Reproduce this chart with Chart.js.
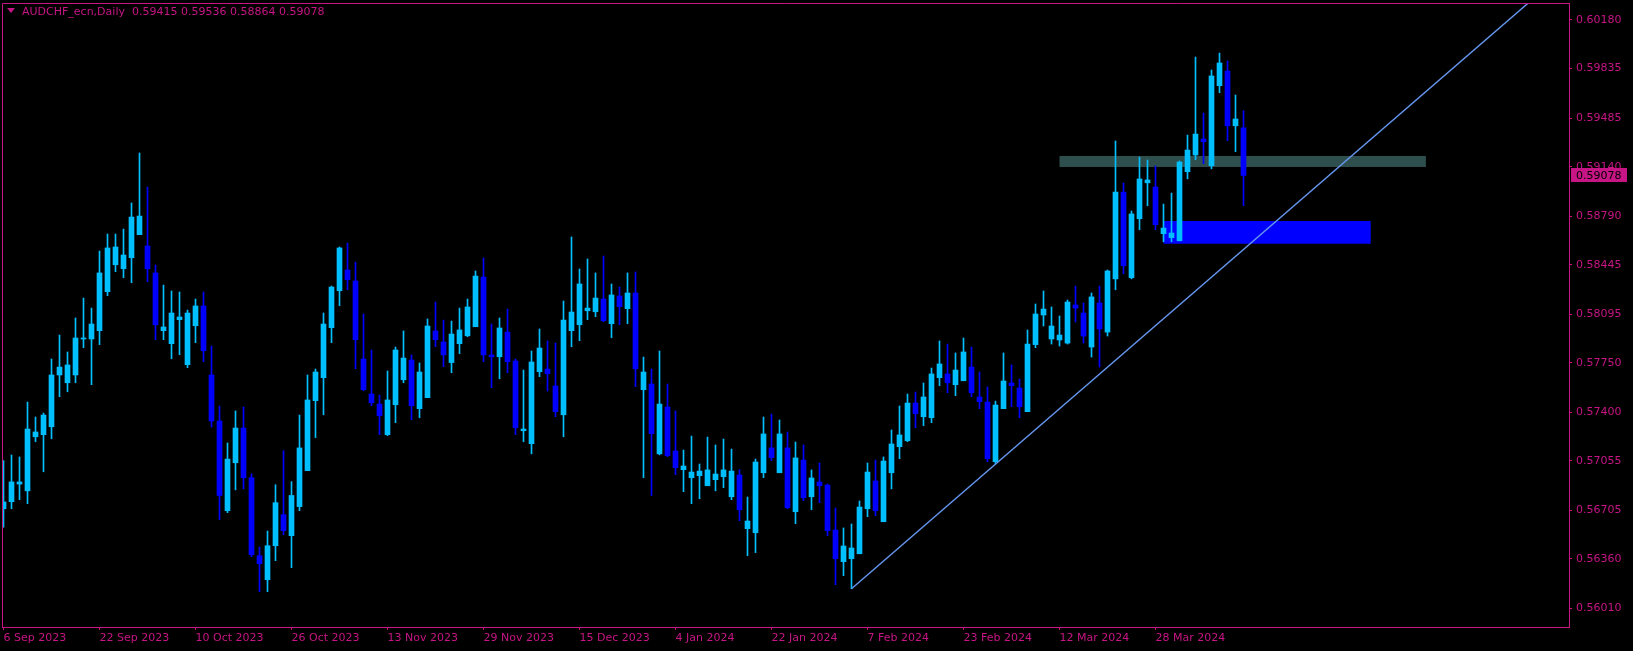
<!DOCTYPE html>
<html>
<head>
<meta charset="utf-8">
<title>AUDCHF_ecn, Daily</title>
<script src="https://cdn.jsdelivr.net/npm/chart.js@4.4.1/dist/chart.umd.min.js"></script>
<style>
  html, body { margin: 0; padding: 0; background: #000; overflow: hidden; }
  #wrap { position: relative; width: 1633px; height: 651px; }
  #chartCanvas { display: block; }
  #hdr { position: absolute; left: 7px; top: 5px; font: 11px "DejaVu Sans", sans-serif; line-height: 13px; color: #C71585; white-space: pre; }
  .tri { display: inline-block; width: 0; height: 0; border-left: 4px solid transparent; border-right: 4px solid transparent; border-top: 5px solid #C71585; margin-right: 7px; vertical-align: 2px; }
</style>
</head>
<body>
<div id="wrap">
  <canvas id="chartCanvas" width="1633" height="651"></canvas>
  <div id="hdr"></div>
</div>
<script>
/* AUDCHF daily candles, MT4 look */
const PINK = '#C71585';
const BULL = '#00BFFF';
const BEAR = '#0000FF';
const FONT = { family: '"DejaVu Sans", sans-serif', size: 11 };

const symbol = 'AUDCHF_ecn,Daily';

const opens = [
  0.56716, 0.56766, 0.56891, 0.56843, 0.57226, 0.57241, 0.57297, 0.57664, 0.57609, 0.57664,
  0.57919, 0.57919, 0.57978, 0.58254, 0.58445, 0.58417, 0.58495, 0.58658, 0.58578, 0.58387,
  0.57978, 0.57886, 0.58056, 0.57737, 0.58013, 0.58153, 0.57664, 0.57338, 0.56702, 0.57042,
  0.57288, 0.56936, 0.56383, 0.56213, 0.56454, 0.56674, 0.56525, 0.56731, 0.56986, 0.57482,
  0.57645, 0.57999, 0.58261, 0.58408, 0.58330, 0.57777, 0.57529, 0.57458, 0.57241, 0.57453,
  0.57630, 0.57770, 0.57425, 0.57503, 0.57976, 0.57898, 0.57752, 0.57886, 0.57942, 0.58006,
  0.58358, 0.57806, 0.57793, 0.57968, 0.57763, 0.57269, 0.57177, 0.57687, 0.57706, 0.57586,
  0.57382, 0.57978, 0.58020, 0.58119, 0.58112, 0.58202, 0.58027, 0.58224, 0.58134, 0.58245,
  0.57560, 0.57600, 0.57105, 0.57437, 0.57125, 0.56993, 0.56936, 0.56950, 0.56879, 0.56922,
  0.56943, 0.56801, 0.56955, 0.56575, 0.56546, 0.56971, 0.57147, 0.56971, 0.57147, 0.56695,
  0.57061, 0.56801, 0.56906, 0.56884, 0.56565, 0.56341, 0.56362, 0.56397, 0.56716, 0.56913,
  0.56624, 0.56971, 0.57156, 0.57198, 0.57465, 0.57368, 0.57361, 0.57645, 0.57671, 0.57595,
  0.57623, 0.57720, 0.57508, 0.57472, 0.57049, 0.57425, 0.57607, 0.57572, 0.57404, 0.57879,
  0.58089, 0.57919, 0.57912, 0.57890, 0.58160, 0.58103, 0.57862, 0.58174, 0.57968, 0.58345,
  0.58960, 0.58353, 0.58771, 0.59026, 0.58996, 0.58665, 0.58637, 0.58615, 0.59104, 0.59223,
  0.59336, 0.59147, 0.59714, 0.59818, 0.59430, 0.59415
];
const highs = [
  0.57057, 0.57097, 0.57083, 0.57472, 0.57366, 0.57394, 0.57777, 0.57947, 0.57827, 0.58068,
  0.58209, 0.58138, 0.58542, 0.58663, 0.58663, 0.58698, 0.58883, 0.59237, 0.58996, 0.58443,
  0.58301, 0.58259, 0.58252, 0.58124, 0.58202, 0.58252, 0.57869, 0.57444, 0.57182, 0.57409,
  0.57437, 0.56964, 0.56445, 0.56558, 0.56886, 0.57127, 0.56908, 0.57380, 0.57664, 0.57706,
  0.58103, 0.58294, 0.58571, 0.58599, 0.58464, 0.58096, 0.57841, 0.57522, 0.57692, 0.57862,
  0.57976, 0.57806, 0.57749, 0.58061, 0.58181, 0.58053, 0.58046, 0.58138, 0.58202, 0.58401,
  0.58493, 0.58025, 0.58068, 0.58131, 0.57777, 0.57699, 0.57834, 0.57990, 0.57905, 0.57890,
  0.58188, 0.58642, 0.58415, 0.58486, 0.58387, 0.58507, 0.58309, 0.58287, 0.58387, 0.58394,
  0.57791, 0.57706, 0.57834, 0.57600, 0.57409, 0.57132, 0.57231, 0.57033, 0.57224, 0.57168,
  0.57210, 0.57139, 0.56993, 0.56799, 0.57068, 0.57366, 0.57387, 0.57345, 0.57260, 0.57189,
  0.57168, 0.56991, 0.57040, 0.56891, 0.56721, 0.56580, 0.56608, 0.56771, 0.57040, 0.57061,
  0.57083, 0.57274, 0.57444, 0.57529, 0.57543, 0.57607, 0.57713, 0.57905, 0.57883, 0.57820,
  0.57926, 0.57862, 0.57685, 0.57579, 0.57479, 0.57820, 0.57735, 0.57635, 0.57983, 0.58167,
  0.58259, 0.58146, 0.58082, 0.58195, 0.58294, 0.58174, 0.58245, 0.58294, 0.58408, 0.59322,
  0.59024, 0.58826, 0.59208, 0.59187, 0.59145, 0.58875, 0.58953, 0.59180, 0.59364, 0.59917,
  0.59520, 0.59825, 0.59945, 0.59889, 0.59648, 0.59536
];
const lows = [
  0.56585, 0.56716, 0.56780, 0.56752, 0.57191, 0.56978, 0.57212, 0.57510, 0.57545, 0.57609,
  0.57857, 0.57595, 0.57879, 0.58226, 0.58396, 0.58353, 0.58318, 0.58658, 0.58325, 0.57914,
  0.57914, 0.57779, 0.57808, 0.57716, 0.57893, 0.57758, 0.57295, 0.56638, 0.56688, 0.56850,
  0.56857, 0.56376, 0.56128, 0.56128, 0.56348, 0.56532, 0.56298, 0.56702, 0.56986, 0.57220,
  0.57382, 0.57893, 0.58155, 0.58268, 0.57708, 0.57552, 0.57446, 0.57241, 0.57234, 0.57326,
  0.57609, 0.57347, 0.57361, 0.57503, 0.57864, 0.57723, 0.57680, 0.57815, 0.57935, 0.58006,
  0.57758, 0.57574, 0.57637, 0.57680, 0.57241, 0.57191, 0.57105, 0.57652, 0.57550, 0.57368,
  0.57226, 0.57864, 0.57907, 0.58056, 0.58077, 0.58041, 0.57928, 0.58020, 0.58027, 0.57581,
  0.56936, 0.56810, 0.57098, 0.57085, 0.56957, 0.56837, 0.56752, 0.56787, 0.56879, 0.56843,
  0.56865, 0.56780, 0.56631, 0.56383, 0.56405, 0.56936, 0.57057, 0.56971, 0.56716, 0.56610,
  0.56773, 0.56709, 0.56759, 0.56525, 0.56178, 0.56242, 0.56149, 0.56397, 0.56660, 0.56667,
  0.56624, 0.56857, 0.57071, 0.57191, 0.57290, 0.57305, 0.57326, 0.57588, 0.57538, 0.57517,
  0.57623, 0.57510, 0.57425, 0.57049, 0.57035, 0.57425, 0.57439, 0.57361, 0.57404, 0.57857,
  0.58011, 0.57883, 0.57869, 0.57883, 0.58039, 0.57890, 0.57791, 0.57720, 0.57940, 0.58268,
  0.58381, 0.58345, 0.58693, 0.58863, 0.58693, 0.58608, 0.58608, 0.58615, 0.59054, 0.59189,
  0.59161, 0.59125, 0.59664, 0.59324, 0.59246, 0.58864
];
const closes = [
  0.56764, 0.56906, 0.56906, 0.57281, 0.57260, 0.57380, 0.57664, 0.57720, 0.57735, 0.57926,
  0.57926, 0.58025, 0.58387, 0.58564, 0.58571, 0.58514, 0.58783, 0.58790, 0.58417, 0.58020,
  0.58004, 0.58103, 0.58075, 0.58103, 0.58153, 0.57836, 0.57338, 0.56810, 0.57068, 0.57288,
  0.56936, 0.56390, 0.56327, 0.56454, 0.56759, 0.56561, 0.56810, 0.57147, 0.57487, 0.57685,
  0.58025, 0.58287, 0.58564, 0.58339, 0.57914, 0.57560, 0.57467, 0.57375, 0.57487, 0.57841,
  0.57784, 0.57446, 0.57685, 0.58011, 0.57914, 0.57806, 0.57954, 0.57983, 0.58146, 0.58365,
  0.57806, 0.57793, 0.57997, 0.57758, 0.57290, 0.57281, 0.57756, 0.57855, 0.57673, 0.57404,
  0.58053, 0.58110, 0.58309, 0.58138, 0.58209, 0.58048, 0.58231, 0.58148, 0.58245, 0.57708,
  0.57685, 0.57248, 0.57458, 0.57092, 0.57007, 0.57019, 0.56976, 0.56983, 0.56991, 0.56962,
  0.56991, 0.56983, 0.56709, 0.56629, 0.57047, 0.57246, 0.57078, 0.57246, 0.56723, 0.57076,
  0.56794, 0.56934, 0.56879, 0.56561, 0.56362, 0.56452, 0.56438, 0.56728, 0.56976, 0.56702,
  0.57054, 0.57175, 0.57239, 0.57465, 0.57390, 0.57508, 0.57671, 0.57742, 0.57609, 0.57699,
  0.57827, 0.57538, 0.57475, 0.57071, 0.57451, 0.57621, 0.57588, 0.57439, 0.57883, 0.58096,
  0.58131, 0.58011, 0.57947, 0.58181, 0.58138, 0.57940, 0.58217, 0.57990, 0.58401, 0.58960,
  0.58438, 0.58805, 0.59053, 0.59046, 0.58729, 0.58705, 0.58670, 0.59173, 0.59258, 0.59371,
  0.59317, 0.59783, 0.59875, 0.59430, 0.59478, 0.59078
];

// time axis: bar index -> date label
const tickIdx = [0, 12, 24, 36, 48, 60, 72, 84, 96, 108, 120, 132, 144];
const tickDates = ['6 Sep 2023', '22 Sep 2023', '10 Oct 2023', '26 Oct 2023', '13 Nov 2023',
  '29 Nov 2023', '15 Dec 2023', '4 Jan 2024', '22 Jan 2024', '7 Feb 2024', '23 Feb 2024',
  '12 Mar 2024', '28 Mar 2024'];
const priceTicks = [0.60180, 0.59835, 0.59485, 0.59140, 0.58790, 0.58445, 0.58095,
  0.57750, 0.57400, 0.57055, 0.56705, 0.56360, 0.56010];

// drawn objects (bar index / price)
const trendX = [106, 190.6];
const trendY = [0.56149, 0.60300];
const grayZoneX = [132, 177.8];
const grayZoneY = [0.59138, 0.59216];
const blueZoneX = [145, 170.9];
const blueZoneY = [0.58594, 0.58755];

const idx = opens.map((_, i) => i);
const candleColors = idx.map(i => closes[i] >= opens[i] ? BULL : BEAR);
const last = opens.length - 1;

document.getElementById('hdr').innerHTML = '<span class="tri"></span>' + symbol + '  ' +
  [opens[last], highs[last], lows[last], closes[last]].map(v => v.toFixed(5)).join(' ');

const zonesPlugin = {
  id: 'zones',
  beforeDatasetsDraw(chart) {
    const { ctx, chartArea: a, scales: { x, y } } = chart;
    ctx.save();
    ctx.beginPath();
    ctx.rect(a.left, a.top, a.right - a.left, a.bottom - a.top);
    ctx.clip();
    [[grayZoneX, grayZoneY, '#2F4F4F'], [blueZoneX, blueZoneY, BEAR]].forEach(([zx, zy, col]) => {
      const x0 = x.getPixelForValue(zx[0]), x1 = x.getPixelForValue(zx[1]);
      const y0 = y.getPixelForValue(zy[1]), y1 = y.getPixelForValue(zy[0]);
      ctx.fillStyle = col;
      ctx.fillRect(x0, y0, x1 - x0, y1 - y0);
    });
    ctx.restore();
  }
};

const framePlugin = {
  id: 'frame',
  afterDraw(chart) {
    const { ctx, chartArea: a, scales: { y } } = chart;
    ctx.save();
    ctx.strokeStyle = PINK;
    ctx.lineWidth = 1;
    ctx.beginPath();
    ctx.moveTo(a.left + 0.5, a.bottom);
    ctx.lineTo(a.left + 0.5, a.top + 0.5);
    ctx.lineTo(a.right, a.top + 0.5);
    ctx.stroke();
    // current price tag on the price scale
    const py = Math.round(y.getPixelForValue(closes[last]));
    ctx.fillStyle = PINK;
    ctx.fillRect(a.right + 2, py - 7, 56, 14);
    ctx.fillStyle = '#000';
    ctx.font = '11px "DejaVu Sans", sans-serif';
    ctx.textBaseline = 'middle';
    ctx.fillText(closes[last].toFixed(5), a.right + 7, py + 1);
    ctx.restore();
  }
};

const noPad = s => { s.paddingTop = 0; s.paddingBottom = 0; s.paddingLeft = 0; s.paddingRight = 0; };

const ctx = document.getElementById('chartCanvas').getContext('2d');
const chart = new Chart(ctx, {
  type: 'bar',
  data: {
    datasets: [
      {
        type: 'line',
        data: trendX.map((v, i) => ({ x: v, y: trendY[i] })),
        borderColor: '#6495ED', borderWidth: 1.5, pointRadius: 0, tension: 0,
        order: 0, clip: 0
      },
      {
        data: idx.map(i => ({ x: i, y: [opens[i], closes[i]] })),
        backgroundColor: candleColors, borderWidth: 0,
        barThickness: 5, grouped: false, minBarLength: 1, order: 1, clip: 0
      },
      {
        data: idx.map(i => ({ x: i, y: [lows[i], highs[i]] })),
        backgroundColor: candleColors, borderWidth: 0,
        barThickness: 1, grouped: false, order: 2, clip: 0
      }
    ]
  },
  options: {
    responsive: false,
    animation: false,
    devicePixelRatio: 1,
    layout: { padding: { left: 2, top: 3, right: 0, bottom: 0 } },
    plugins: { legend: { display: false }, tooltip: { enabled: false } },
    scales: {
      x: {
        type: 'linear', min: -0.1875, max: 195.6875, offset: false, bounds: 'data',
        grid: { drawOnChartArea: false, drawTicks: true, tickLength: 3, color: PINK, offset: false },
        border: { color: PINK, width: 1 },
        ticks: {
          autoSkip: false, maxRotation: 0, minRotation: 0, align: 'start', padding: 2,
          color: PINK, font: FONT,
          callback: v => { const k = tickIdx.indexOf(v); return k < 0 ? '' : tickDates[k]; }
        },
        afterBuildTicks: s => { s.ticks = tickIdx.map(v => ({ value: v })); },
        afterFit: s => { s.height = 24; noPad(s); }
      },
      y: {
        type: 'linear', position: 'right', min: 0.55878, max: 0.60300, beginAtZero: false,
        grid: { drawOnChartArea: false, drawTicks: true, tickLength: 3, color: PINK },
        border: { color: PINK, width: 1 },
        ticks: { padding: 4, color: PINK, font: FONT, callback: v => Number(v).toFixed(5) },
        afterBuildTicks: s => { s.ticks = priceTicks.map(v => ({ value: v })); },
        afterFit: s => { s.width = 64; noPad(s); }
      }
    }
  },
  plugins: [zonesPlugin, framePlugin]
});
</script>
</body>
</html>
